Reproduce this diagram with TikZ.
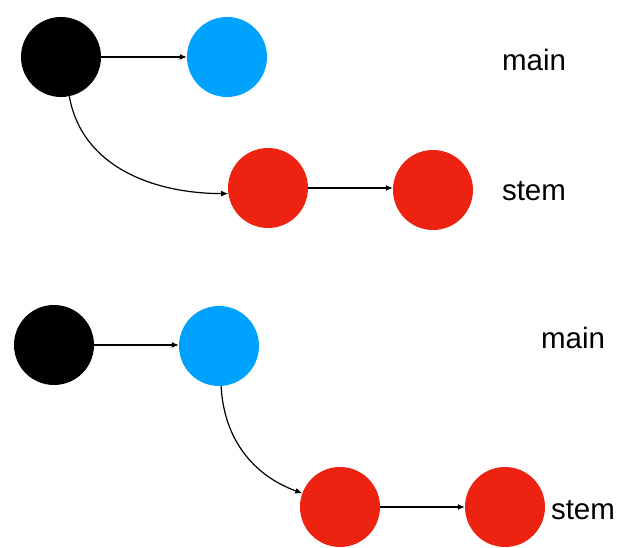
\documentclass[tikz,border=0pt]{standalone}
\usepackage{fontspec}
\setmainfont{Liberation Sans}
\usetikzlibrary{arrows.meta}
\definecolor{cblue}{HTML}{00A2FF}
\definecolor{cred}{HTML}{EE2211}
\begin{document}
\begin{tikzpicture}[x=1pt,y=1pt,
  dot/.style={circle,minimum size=80pt,inner sep=0pt,draw=none},
  conn/.style={line width=1.2pt,-{Latex[length=7pt,width=6pt]}},
  lbl/.style={font=\fontsize{29.5}{34}\selectfont,inner sep=0pt}]
\useasboundingbox (0,0) rectangle (619,548);
\fill[white] (0,0) rectangle (619,548);
% top
\node[dot,fill=black] (a1) at (61,491) {};
\node[dot,fill=cblue] (b1) at (227,491) {};
\node[dot,fill=cred] (c1) at (268,360) {};
\node[dot,fill=cred] (d1) at (433,358) {};
\node[lbl] (m1) at (534,488) {main};
\node[lbl] (s1) at (534,357) {stem};
\draw[conn] (a1) -- (b1);
\draw[conn] (c1.east) -- (d1.west |- c1.east);
\draw[conn] (a1.-78) to[out=-80,in=180] (c1.188);
% bottom
\node[dot,fill=black] (a2) at (54,203) {};
\node[dot,fill=cblue] (b2) at (219,202) {};
\node[dot,fill=cred] (c2) at (340,41) {};
\node[dot,fill=cred] (d2) at (505,41) {};
\node[lbl] (m2) at (573,210) {main};
\node[lbl] (s2) at (583,38) {stem};
\draw[conn] (a2.east) -- (b2.west |- a2.east);
\draw[conn] (c2) -- (d2);
\draw[conn] (b2.-87) to[out=-87,in=160] (c2.160);
\end{tikzpicture}
\end{document}
